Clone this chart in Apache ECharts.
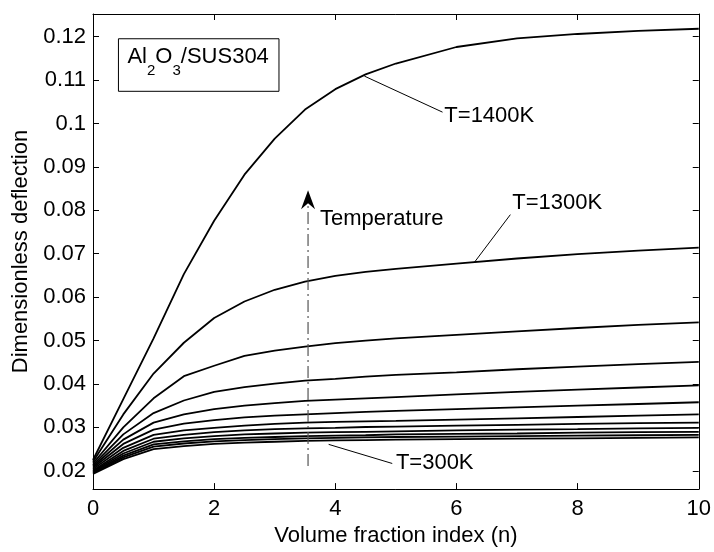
<!DOCTYPE html>
<html>
<head>
<meta charset="utf-8">
<script src="https://cdn.jsdelivr.net/npm/echarts@6/dist/echarts.min.js"></script>
<style>
  html, body { margin: 0; padding: 0; background: #fff; }
  #main { width: 714px; height: 552px; }
</style>
</head>
<body>
<div id="main"></div>
<script>
"use strict";
// volume fraction index n
const nValues = [0, 0.5, 1, 1.5, 2, 2.5, 3, 3.5, 4, 4.5, 5, 6, 7, 8, 9, 10];

// dimensionless deflection, one row per temperature
const temps = [1400, 1300, 1200, 1100, 1000, 900, 800, 700, 600, 500, 400, 300];
const w1400 = [0.0225, 0.0365, 0.0505, 0.0653, 0.0776, 0.0882, 0.0965, 0.1032, 0.1079, 0.1113, 0.1138, 0.1176, 0.1196, 0.1206, 0.1213, 0.1218];
const w1300 = [0.0221, 0.0330, 0.0424, 0.0495, 0.0552, 0.0590, 0.0617, 0.0636, 0.0649, 0.0658, 0.0665, 0.0677, 0.0689, 0.0699, 0.0707, 0.0714];
const w1200 = [0.0217, 0.0300, 0.0367, 0.0418, 0.0442, 0.0465, 0.0477, 0.0486, 0.0494, 0.0500, 0.0505, 0.0513, 0.0521, 0.0529, 0.0536, 0.0542];
const w1100 = [0.0213, 0.0284, 0.0333, 0.0362, 0.0382, 0.0393, 0.0401, 0.0408, 0.0412, 0.0417, 0.0421, 0.0427, 0.0434, 0.0440, 0.0446, 0.0451];
const w1000 = [0.0210, 0.0272, 0.0311, 0.0330, 0.0342, 0.0350, 0.0356, 0.0361, 0.0364, 0.0367, 0.0370, 0.0376, 0.0382, 0.0387, 0.0392, 0.0397];
const w900  = [0.0207, 0.0262, 0.0295, 0.0309, 0.0317, 0.0323, 0.0327, 0.0330, 0.0333, 0.0336, 0.0338, 0.0342, 0.0346, 0.0350, 0.0354, 0.0358];
const w800  = [0.0204, 0.0253, 0.0283, 0.0293, 0.0299, 0.0304, 0.0308, 0.0311, 0.0313, 0.0314, 0.0315, 0.0318, 0.0321, 0.0324, 0.0327, 0.0330];
const w700  = [0.0201, 0.0246, 0.0274, 0.0283, 0.0289, 0.0293, 0.0296, 0.0298, 0.0299, 0.0301, 0.0302, 0.0304, 0.0306, 0.0308, 0.0310, 0.0311];
const w600  = [0.0199, 0.0240, 0.0267, 0.0275, 0.0280, 0.0284, 0.0286, 0.0288, 0.0289, 0.0290, 0.0291, 0.0293, 0.0295, 0.0296, 0.0298, 0.0299];
const w500  = [0.0197, 0.0235, 0.0261, 0.0268, 0.0273, 0.0276, 0.0278, 0.0280, 0.0281, 0.0282, 0.0284, 0.0285, 0.0286, 0.0288, 0.0289, 0.0290];
const w400  = [0.0195, 0.0231, 0.0256, 0.0263, 0.0268, 0.0271, 0.0273, 0.0275, 0.0276, 0.0277, 0.0278, 0.0279, 0.0280, 0.0281, 0.0282, 0.0283];
const w300  = [0.0193, 0.0227, 0.0250, 0.0257, 0.0262, 0.0265, 0.0267, 0.0269, 0.0270, 0.0271, 0.0272, 0.0273, 0.0274, 0.0275, 0.0276, 0.0277];
const curves = [w1400, w1300, w1200, w1100, w1000, w900, w800, w700, w600, w500, w400, w300];

const yTicks = [0.02, 0.03, 0.04, 0.05, 0.06, 0.07, 0.08, 0.09, 0.1, 0.11, 0.12];

const FONT = '"Liberation Sans", Arial, Helvetica, sans-serif';

const chart = echarts.init(document.getElementById('main'), null, { renderer: 'canvas' });

function axisBase(extra) {
  return Object.assign({
    axisLine: { show: true, onZero: false, lineStyle: { color: '#000', width: 1 } },
    axisTick: { show: true, inside: true, length: 6, lineStyle: { color: '#000' } },
    splitLine: { show: false }
  }, extra);
}

let series = curves.map(function (vals, i) {
  return {
    name: 'T=' + temps[i] + 'K',
    type: 'line',
    symbol: 'none',
    smooth: false,
    lineStyle: { color: '#000', width: 1.8 },
    data: vals.map(function (v, j) { return [nValues[j], v]; })
  };
});

let option = {
  animation: false,
  backgroundColor: '#fff',
  textStyle: { fontFamily: FONT },
  grid: { left: 93, right: 11, top: 14, bottom: 57, containLabel: false },
  xAxis: [
    axisBase({
      type: 'value', position: 'bottom', min: 0, max: 10, interval: 2,
      name: 'Volume fraction index (n)', nameLocation: 'middle', nameGap: 33,
      nameTextStyle: { color: '#000', fontSize: 22, fontFamily: FONT },
      axisLabel: { color: '#000', fontSize: 22, fontFamily: FONT, margin: 9 }
    }),
    axisBase({
      type: 'value', position: 'top', min: 0, max: 10, interval: 2,
      axisLabel: { show: false }
    })
  ],
  yAxis: [
    axisBase({
      type: 'value', position: 'left', min: 0.0158, max: 0.1252,
      name: 'Dimensionless deflection', nameLocation: 'middle', nameGap: 58,
      nameTextStyle: { color: '#000', fontSize: 22, fontFamily: FONT },
      axisTick: { show: true, inside: true, length: 6, lineStyle: { color: '#000' }, customValues: yTicks },
      axisLabel: {
        color: '#000', fontSize: 22, fontFamily: FONT, margin: 7,
        customValues: yTicks,
        formatter: function (v) { return String(+v.toFixed(2)); }
      }
    }),
    axisBase({
      type: 'value', position: 'right', min: 0.0158, max: 0.1252,
      axisTick: { show: true, inside: true, length: 6, lineStyle: { color: '#000' }, customValues: yTicks },
      axisLabel: { show: false, customValues: yTicks }
    })
  ],
  series: series
};

chart.setOption(option);

// annotations, anchored in data coordinates
function px(n, v) { return chart.convertToPixel({ gridIndex: 0 }, [n, v]); }

const boxTL = px(0.42, 0.1195), boxBR = px(3.07, 0.1074);
const lead1400 = [px(4.48, 0.1109), px(5.77, 0.1026)];
const lead1300 = [px(6.29, 0.0679), px(6.89, 0.0790)];
const lead300  = [px(3.89, 0.0261), px(4.94, 0.0217)];
const arrowBottom = px(3.55, 0.0211), arrowTop = px(3.55, 0.0846);
const pos1400 = px(5.80, 0.1017);
const pos1300 = px(6.92, 0.0816);
const posTemp = px(3.746, 0.0780);
const pos300  = px(5.00, 0.0218);

function leader(p) {
  return { type: 'line', shape: { x1: p[0][0], y1: p[0][1], x2: p[1][0], y2: p[1][1] },
           style: { stroke: '#000', lineWidth: 1 }, z: 10 };
}
function label(text, p) {
  return { type: 'text', x: p[0], y: p[1],
           style: { text: text, fill: '#000', font: '22px ' + FONT, align: 'left', verticalAlign: 'middle' }, z: 10 };
}

const graphics = [
  { type: 'rect', shape: { x: boxTL[0], y: boxTL[1], width: boxBR[0] - boxTL[0], height: boxBR[1] - boxTL[1] },
    style: { fill: '#fff', stroke: '#000', lineWidth: 1 }, z: 10 },
  { type: 'text', x: boxTL[0] + 9, y: boxTL[1] + 7,
    style: {
      text: '{m|Al}{s|2}{m|O}{s|3}{m|/SUS304}',
      verticalAlign: 'top', align: 'left',
      rich: {
        m: { fontSize: 22, fontFamily: FONT, lineHeight: 22, verticalAlign: 'top', fill: '#000' },
        s: { fontSize: 15, fontFamily: FONT, lineHeight: 15, padding: [18, 0, 0, 0], verticalAlign: 'top', fill: '#000' }
      }
    }, z: 11 },
  leader(lead1400), label('T=1400K', pos1400),
  leader(lead1300), label('T=1300K', pos1300),
  leader(lead300), label('T=300K', pos300),
  { type: 'line', shape: { x1: arrowBottom[0], y1: arrowBottom[1], x2: arrowTop[0], y2: arrowTop[1] + 12 },
    style: { stroke: '#555', lineWidth: 1.2, lineDash: [12, 4, 2, 4] }, z: 10 },
  { type: 'polygon',
    shape: { points: [[arrowTop[0], arrowTop[1]], [arrowTop[0] - 7, arrowTop[1] + 19],
                      [arrowTop[0], arrowTop[1] + 13], [arrowTop[0] + 7, arrowTop[1] + 19]] },
    style: { fill: '#000' }, z: 10 },
  label('Temperature', posTemp)
];

chart.setOption({ graphic: graphics });
</script>
</body>
</html>
